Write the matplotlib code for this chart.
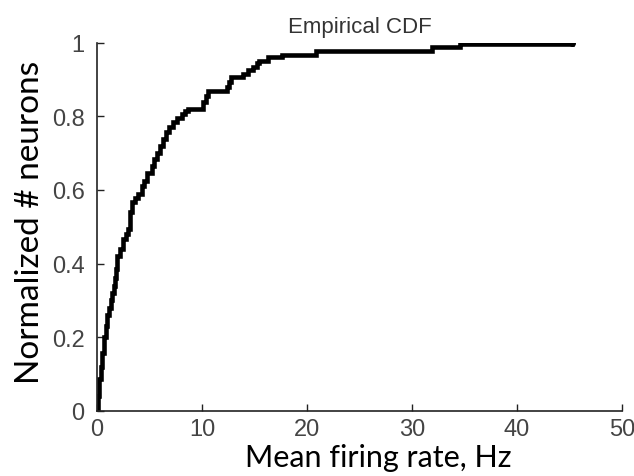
import numpy as np
import matplotlib.pyplot as plt

# step points of the empirical CDF
rate = [0, 0.1, 0.19, 0.35, 0.5, 0.67, 0.82, 0.98, 1.15, 1.3, 1.45, 1.6,
        1.71, 1.78, 1.87, 2.2, 2.5, 2.75, 2.98, 3.14, 3.3, 3.6, 3.93, 4.26,
        4.5, 4.73, 5.2, 5.4, 5.7, 6.0, 6.3, 6.6, 6.9, 7.27, 7.65, 8.06, 8.4,
        8.7, 10.1, 10.35, 10.6, 12.35, 12.6, 12.8, 13.9, 14.4, 14.9, 15.2,
        15.4, 16.3, 17.6, 20.9, 31.9, 34.6, 45.2]
cdf = [0.0, 0.04, 0.085, 0.12, 0.157, 0.20, 0.23, 0.26, 0.28, 0.30, 0.32,
       0.34, 0.36, 0.384, 0.42, 0.44, 0.466, 0.48, 0.493, 0.539, 0.566,
       0.578, 0.589, 0.61, 0.625, 0.645, 0.665, 0.684, 0.70, 0.72, 0.74,
       0.757, 0.77, 0.784, 0.795, 0.807, 0.815, 0.82, 0.838, 0.855, 0.868,
       0.879, 0.893, 0.906, 0.916, 0.925, 0.934, 0.944, 0.952, 0.961, 0.966,
       0.979, 0.988, 0.997, 1.0]

xticks = [0, 10, 20, 30, 40, 50]
yticks = [0, 0.2, 0.4, 0.6, 0.8, 1]
yticklabels = ["0", "0.2", "0.4", "0.6", "0.8", "1"]

plt.rcParams["font.family"] = ["Liberation Sans Narrow", "Liberation Sans", "DejaVu Sans"]
label_font = ["Lato", "DejaVu Sans"]

fig = plt.figure(figsize=(6.34, 4.77), dpi=100)
ax = fig.add_axes([0.153, 0.137, 0.828, 0.771])

ax.step(rate, cdf, where="post", color="k", lw=3.3, solid_joinstyle="miter")
ax.plot(rate[-1], cdf[-1], "o", color="k", ms=4)

ax.set_xlim(0, 50)
ax.set_ylim(0, 1)
ax.set_xticks(xticks)
ax.set_yticks(yticks)
ax.set_yticklabels(yticklabels)
ax.tick_params(direction="in", length=5, width=1, colors="#222222",
               labelsize=17, labelcolor="#444444")
ax.tick_params(axis="x", pad=5)
ax.tick_params(axis="y", pad=9)

for s in ["top", "right"]:
    ax.spines[s].set_visible(False)
for s in ["left", "bottom"]:
    ax.spines[s].set_linewidth(1.2)
    ax.spines[s].set_color("#222222")

ax.set_title("Empirical CDF", family=["Liberation Sans", "DejaVu Sans"],
             fontsize=16, color="#333333", pad=8)
ax.set_xlabel("Mean firing rate, Hz", family=label_font, fontsize=22)
ax.xaxis.set_label_coords(0.535, -0.088, transform=ax.transAxes)
ax.xaxis.label.set_va("top")
ax.set_ylabel("Normalized # neurons", family=label_font, fontsize=24)
ax.yaxis.set_label_coords(-0.1, 0.515)

fig.savefig("out.png", dpi=100)
